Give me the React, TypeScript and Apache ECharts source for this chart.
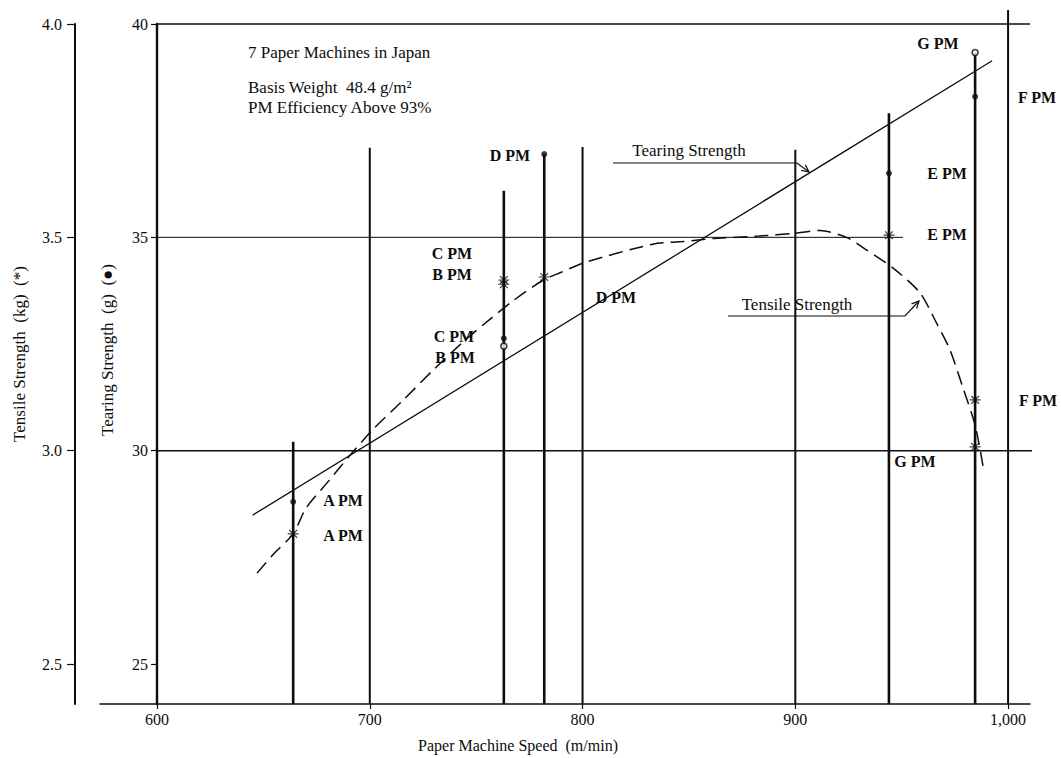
import React, { useEffect, useRef } from 'react';
import * as echarts from 'echarts';

// ---------- data ----------
const xTicks = [600, 700, 800, 900, 1000];
const tearingTicks = [25, 30, 35, 40];
const tensileTicks = [2.5, 3.0, 3.5, 4.0];

const machines = ['A PM', 'B PM', 'C PM', 'D PM', 'E PM', 'F PM', 'G PM'];
const machineSpeed = [664, 763, 763, 782, 944, 984.5, 984.5]; // m/min
const tearing = [28.8, 32.45, 32.63, 36.95, 36.5, 38.3, 39.33]; // g
const tearingOpen = [false, true, false, false, false, false, true];
const tensile = [2.805, 3.39, 3.4, 3.407, 3.505, 3.119, 3.009]; // kg

// fitted tearing-strength line
const tearingLineSpeed = [645, 992.5];
const tearingLineValue = [28.49, 39.14];

// fitted tensile-strength curve
const tensileCurveSpeed = [647, 655, 664, 670, 681, 690, 701.5, 715, 730, 745, 757, 767, 781.6, 789.4, 801, 833, 847, 861.5, 883, 899, 911.6, 924, 933.6, 946, 958.6, 966.5, 972.7, 978.8, 984.5, 988.3];
const tensileCurveValue = [2.713, 2.759, 2.805, 2.865, 2.931, 2.985, 3.05, 3.115, 3.19, 3.26, 3.31, 3.35, 3.4, 3.417, 3.441, 3.484, 3.49, 3.497, 3.503, 3.509, 3.516, 3.5, 3.47, 3.428, 3.37, 3.298, 3.236, 3.147, 3.06, 2.962];

// vertical drop lines (speed, top in tearing units)
const verticalSpeed = [664, 700, 763, 782, 800, 900, 944, 984.5, 1000];
const verticalTop = [30.21, 37.1, 36.09, 36.95, 37.12, 37.05, 37.91, 39.33, 40.33];

// horizontal reference lines (tearing units, end speed)
const refLevel = [40, 35, 30];
const refStart = [600, 600, 600];
const refEnd = [1010.3, 950.6, 1018.3];

// ---------- style ----------
const FONT = "'Liberation Serif', 'Times New Roman', Times, serif";
const INK = '#0d0d0d';
const X_MIN = 573.2;
const X_MAX = 1010.3;
const Y_MIN = 24.0625;
const Y_MAX = 40;

function starPath() {
  const L = 6;
  const w = 0.65;
  let d = '';
  [0, 45, 90, 135].forEach((deg) => {
    const a = (deg * Math.PI) / 180;
    const cx = Math.cos(a);
    const cy = Math.sin(a);
    const px = -cy;
    const py = cx;
    const pts = [
      [L * cx + w * px, L * cy + w * py],
      [L * cx - w * px, L * cy - w * py],
      [-L * cx - w * px, -L * cy - w * py],
      [-L * cx + w * px, -L * cy + w * py],
    ];
    d += 'M' + pts.map((p) => p[0].toFixed(2) + ',' + p[1].toFixed(2)).join('L') + 'Z';
  });
  return 'path://' + d;
}

function txt(text: string, x: number, y: number, opts: any = {}) {
  return {
    type: 'text',
    x,
    y,
    rotation: opts.rotation || 0,
    silent: true,
    style: {
      text,
      fill: INK,
      fontFamily: FONT,
      fontSize: opts.fontSize || 16,
      fontWeight: opts.bold ? 'bold' : 'normal',
      align: opts.align || 'left',
      verticalAlign: 'middle',
      textAlign: opts.align || 'left',
      textVerticalAlign: 'middle',
    },
  };
}

function arrow(points: number[][]) {
  const n = points.length;
  const [x1, y1] = points[n - 2];
  const [x2, y2] = points[n - 1];
  const ang = Math.atan2(y2 - y1, x2 - x1);
  const len = 8;
  const spread = 0.45;
  const h1 = [x2 - len * Math.cos(ang - spread), y2 - len * Math.sin(ang - spread)];
  const h2 = [x2 - len * Math.cos(ang + spread), y2 - len * Math.sin(ang + spread)];
  return [
    { type: 'polyline', silent: true, shape: { points }, style: { stroke: INK, lineWidth: 1.2, fill: null } },
    { type: 'polyline', silent: true, shape: { points: [h1, [x2, y2], h2] }, style: { stroke: INK, lineWidth: 1.2, fill: null } },
  ];
}

export default function App() {
  const ref = useRef<HTMLDivElement>(null);

  useEffect(() => {
    document.body.style.margin = '0';
    if (!ref.current) return;
    const chart = echarts.init(ref.current, null, { renderer: 'svg' });

    const series: any[] = [];

    verticalSpeed.forEach((s, i) => {
      series.push({
        type: 'line',
        data: [[s, Y_MIN], [s, verticalTop[i]]],
        symbol: 'none',
        clip: false,
        silent: true,
        z: 1,
        lineStyle: { color: INK, width: machineSpeed.includes(s) ? 2.6 : 2 },
      });
    });

    refLevel.forEach((lv, i) => {
      series.push({
        type: 'line',
        data: [[refStart[i], lv], [refEnd[i], lv]],
        symbol: 'none',
        clip: false,
        silent: true,
        z: 1,
        lineStyle: { color: INK, width: lv === 35 ? 1 : 1.5 },
      });
    });

    series.push({
      type: 'line',
      name: 'Tearing Strength',
      data: tearingLineSpeed.map((s, i) => [s, tearingLineValue[i]]),
      symbol: 'none',
      z: 2,
      lineStyle: { color: INK, width: 1.3 },
    });

    series.push({
      type: 'line',
      name: 'Tensile Strength',
      yAxisIndex: 1,
      data: tensileCurveSpeed.map((s, i) => [s, tensileCurveValue[i]]),
      symbol: 'none',
      smooth: 0.25,
      z: 2,
      lineStyle: { color: INK, width: 1.5, type: [14, 7] },
    });

    series.push({
      type: 'scatter',
      name: 'Tearing',
      data: machines.map((m, i) => ({
        name: m,
        value: [machineSpeed[i], tearing[i]],
        itemStyle: tearingOpen[i]
          ? { color: '#fff', borderColor: INK, borderWidth: 1.6 }
          : { color: INK },
      })),
      symbol: 'circle',
      symbolSize: 6,
      z: 5,
    });

    series.push({
      type: 'scatter',
      name: 'Tensile',
      yAxisIndex: 1,
      data: machines.map((m, i) => ({ name: m, value: [machineSpeed[i], tensile[i]] })),
      symbol: starPath(),
      symbolSize: 11,
      symbolKeepAspect: true,
      itemStyle: { color: INK },
      z: 5,
    });

    const pm = { align: 'center', bold: true, fontSize: 16 };
    const graphic: any[] = [
      txt('7 Paper Machines in Japan', 248, 52, { fontSize: 17 }),
      txt('Basis Weight  48.4 g/m²', 248, 87, { fontSize: 17 }),
      txt('PM Efficiency Above 93%', 248, 107, { fontSize: 17 }),
      txt('Tensile Strength  (kg)  (*)', 19, 354, { rotation: Math.PI / 2, align: 'center', fontSize: 17 }),
      txt('Tearing Strength  (g)  (●)', 107, 350, { rotation: Math.PI / 2, align: 'center', fontSize: 17 }),
      txt('Paper Machine Speed  (m/min)', 518, 745, { align: 'center', fontSize: 16 }),
      txt('Tearing Strength', 689, 150, { align: 'center', fontSize: 17 }),
      txt('Tensile Strength', 797, 304, { align: 'center', fontSize: 17 }),
      txt('G PM', 938, 43, pm),
      txt('F PM', 1037, 97, pm),
      txt('E PM', 947, 173, pm),
      txt('E PM', 947, 234, pm),
      txt('F PM', 1038, 400, pm),
      txt('G PM', 915, 461, pm),
      txt('D PM', 510, 155, pm),
      txt('D PM', 616, 297, pm),
      txt('C PM', 452, 253, pm),
      txt('B PM', 452, 274, pm),
      txt('C PM', 454, 336, pm),
      txt('B PM', 455, 357, pm),
      txt('A PM', 343, 500, pm),
      txt('A PM', 343, 535, pm),
      ...arrow([[613, 163], [797, 163], [809, 172]]),
      ...arrow([[728, 316], [905, 316], [919, 301]]),
    ];

    chart.setOption({
      animation: false,
      backgroundColor: '#fff',
      grid: { left: 100, right: 31, top: 24, bottom: 54, containLabel: false },
      xAxis: {
        type: 'value',
        min: X_MIN,
        max: X_MAX,
        axisLine: { show: true, lineStyle: { color: INK, width: 1.6 } },
        axisTick: { show: true, customValues: xTicks, length: 5, lineStyle: { color: INK, width: 1.2 } },
        axisLabel: {
          show: true,
          customValues: xTicks,
          formatter: (v: number) => (v >= 1000 ? '1,000' : String(v)),
          fontFamily: FONT,
          fontSize: 16,
          color: INK,
          margin: 7,
        },
        splitLine: { show: false },
      },
      yAxis: [
        {
          type: 'value',
          min: Y_MIN,
          max: Y_MAX,
          position: 'left',
          offset: -57,
          axisLine: { show: true, lineStyle: { color: INK, width: 2.4 } },
          axisTick: { show: true, customValues: tearingTicks, length: 6, lineStyle: { color: INK, width: 1.2 } },
          axisLabel: {
            show: true,
            customValues: tearingTicks,
            fontFamily: FONT,
            fontSize: 16,
            color: INK,
            margin: 9,
          },
          splitLine: { show: false },
        },
        {
          type: 'value',
          min: Y_MIN / 10,
          max: Y_MAX / 10,
          position: 'left',
          offset: 25,
          axisLine: { show: true, lineStyle: { color: INK, width: 2 } },
          axisTick: { show: true, customValues: tensileTicks, length: 8, lineStyle: { color: INK, width: 1.2 } },
          axisLabel: {
            show: true,
            customValues: tensileTicks,
            formatter: (v: number) => v.toFixed(1),
            fontFamily: FONT,
            fontSize: 16,
            color: INK,
            margin: 13,
          },
          splitLine: { show: false },
        },
      ],
      series,
      graphic,
    });

    return () => chart.dispose();
  }, []);

  return <div ref={ref} style={{ width: 1061, height: 758 }} />;
}
